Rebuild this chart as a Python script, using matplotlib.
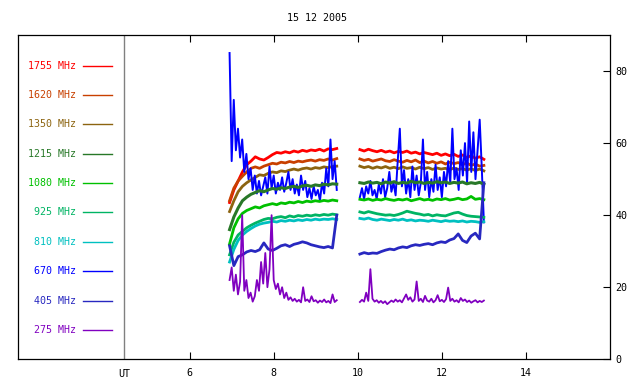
import numpy as np
import matplotlib
matplotlib.use('Agg')
import matplotlib.pyplot as plt

# Tempo (UT) dos dois trechos de medida
t1 = np.linspace(6.95, 9.50, 26)
t2 = np.linspace(10.05, 13.00, 30)
t1n = np.linspace(6.95, 9.50, 52)
t2n = np.linspace(10.05, 13.00, 60)

freqs = ['1755 MHz', '1620 MHz', '1350 MHz', '1215 MHz', '1080 MHz',
         '925 MHz', '810 MHz', '670 MHz', '405 MHz', '275 MHz']
cores = ['#ff0000', '#c84000', '#8c6410', '#287828', '#00c000',
         '#00b464', '#00c0c0', '#0000ff', '#2828c0', '#8000c0']

f1755_a = [43.5, 47.0, 49.5, 52.0, 54.0, 55.0, 56.2, 55.6, 55.3, 56.0, 56.8, 57.4, 57.2,
           57.6, 57.3, 57.8, 57.5, 58.0, 57.7, 58.1, 57.9, 58.3, 57.8, 58.4, 58.2, 58.5]
f1755_b = [58.2, 57.8, 58.3, 57.9, 57.6, 58.0, 57.5, 57.8, 57.3, 57.7, 57.4, 57.8, 57.2, 57.5, 57.0,
           57.4, 57.1, 56.8, 57.2, 56.6, 57.0, 56.5, 56.9, 56.3, 56.7, 56.0, 56.5, 55.8, 56.2, 55.5]
f1620_a = [44.0, 47.5, 49.5, 50.8, 52.0, 53.0, 53.4, 53.0, 53.6, 54.0, 54.4, 54.2, 54.7,
           54.5, 54.9, 54.6, 55.0, 54.8, 55.1, 55.3, 55.0, 55.4, 55.2, 55.6, 55.3, 55.7]
f1620_b = [55.6, 55.2, 55.5, 55.0, 55.3, 55.6, 55.1, 54.9, 55.4, 55.0, 54.7, 55.2, 54.8, 55.3, 54.6,
           55.0, 54.5, 54.9, 54.4, 54.8, 54.2, 54.7, 54.3, 54.6, 54.0, 54.5, 53.8, 54.2, 53.6, 53.8]
f1350_a = [41.0, 44.0, 46.5, 48.0, 49.0, 49.8, 50.5, 51.2, 51.0, 51.6, 52.0, 51.8, 52.3,
           52.1, 52.5, 52.8, 52.5, 52.9, 53.1, 52.8, 53.2, 53.0, 53.4, 53.2, 53.5, 53.6]
f1350_b = [53.6, 53.2, 53.5, 53.0, 53.4, 53.1, 53.5, 53.0, 53.3, 52.9, 53.4, 53.0, 53.2, 52.8, 53.3,
           52.9, 53.2, 52.7, 53.1, 52.8, 53.0, 52.6, 53.1, 52.7, 52.9, 52.5, 52.9, 52.4, 52.8, 52.3]
f1215_a = [36.0, 39.5, 42.0, 44.0, 45.0, 45.8, 46.3, 46.8, 46.5, 47.0, 47.4, 47.2, 47.6,
           47.4, 47.8, 48.0, 47.7, 48.1, 48.3, 48.0, 48.4, 48.2, 48.6, 48.4, 48.7, 48.6]
f1215_b = [49.0, 48.8, 49.2, 48.9, 49.1, 48.7, 49.2, 48.9, 49.3, 48.8, 49.1, 48.9, 49.4, 49.0, 49.2,
           48.8, 49.1, 48.9, 49.3, 49.0, 49.2, 48.8, 49.1, 48.9, 49.2, 48.7, 49.0, 48.8, 49.1, 48.6]
f1080_a = [32.0, 36.5, 39.0, 40.5, 41.3, 41.8, 42.3, 42.0, 42.6, 42.9, 43.2, 42.9, 43.4,
           43.2, 43.6, 43.4, 43.8, 43.5, 43.9, 43.7, 44.0, 43.8, 44.1, 43.9, 44.2, 44.0]
f1080_b = [44.4, 44.2, 44.5, 44.1, 44.4, 44.2, 44.6, 44.3, 44.1, 44.4, 44.2, 44.5, 44.0, 44.3, 44.6,
           44.2, 44.4, 44.1, 44.5, 44.3, 44.6, 44.2, 44.4, 44.7, 44.3, 44.5, 45.2, 44.4, 44.6, 44.3]
f925_a = [29.0, 32.5, 34.5, 35.5, 36.5, 37.2, 37.8, 38.3, 38.8, 39.1, 39.0, 39.4, 39.6,
          39.3, 39.8, 39.5, 39.9, 39.7, 40.0, 39.8, 40.1, 39.9, 40.2, 40.0, 40.3, 40.1]
f925_b = [40.9, 40.6, 41.0, 40.7, 40.4, 40.2, 40.0, 40.1, 39.9, 40.2, 40.6, 41.1, 40.8, 40.5, 40.3,
          40.0, 40.2, 39.8, 40.1, 39.9, 39.8, 40.2, 40.6, 40.8, 40.3, 39.9, 39.7, 39.6, 39.5, 39.4]
f810_a = [27.0, 30.5, 33.0, 34.5, 35.5, 36.3, 37.0, 37.5, 37.8, 38.0, 38.3, 38.1, 38.5,
          38.3, 38.6, 38.4, 38.7, 38.5, 38.8, 38.6, 38.9, 38.7, 38.9, 38.8, 39.0, 38.8]
f810_b = [39.1, 38.9, 39.2, 38.8, 38.6, 38.9, 38.7, 38.5, 38.8, 38.6, 38.9, 38.5, 38.7, 38.4, 38.6,
          38.5, 38.3, 38.6, 38.4, 38.2, 38.5, 38.3, 38.4, 38.2, 38.4, 38.1, 38.3, 38.2, 38.0, 38.2]
f405_a = [31.5, 26.0, 28.5, 29.0, 29.8, 30.2, 29.9, 30.4, 32.3, 30.6, 30.2, 30.8, 31.5,
          31.8, 31.3, 31.9, 32.2, 32.6, 32.3, 31.8, 31.5, 31.2, 31.0, 31.3, 30.9, 40.0]
f405_b = [29.2, 29.6, 29.3, 29.5, 29.4, 29.9, 30.3, 30.6, 30.4, 30.9, 31.2, 31.0, 31.5, 31.8, 31.6,
          31.9, 32.1, 31.8, 32.3, 32.6, 32.4, 33.1, 33.5, 34.8, 33.0, 32.4, 34.2, 35.0, 33.4, 49.0]

f670_a = [85.0, 55.0, 72.0, 58.0, 64.0, 56.0, 61.0, 52.0, 57.0, 50.0, 53.0, 47.0, 51.0,
          46.0, 49.5, 45.5, 48.0, 50.5, 46.0, 53.5, 47.5, 51.0, 46.0, 49.0, 47.0, 50.5,
          46.5, 49.0, 52.0, 47.0, 50.0, 46.0, 48.5, 45.5, 51.0, 47.0, 49.5, 45.0, 47.5,
          44.5, 48.0, 45.5, 47.0, 44.0, 49.0, 46.0, 53.0, 48.0, 61.0, 50.0, 55.0, 47.0]
f670_b = [45.0, 47.5, 44.5, 48.0, 46.0, 49.5, 45.5, 47.0, 44.5, 48.5, 46.0, 50.0, 45.0, 47.5, 52.0,
          46.5, 49.0, 45.5, 55.0, 64.0, 48.0, 52.5, 46.0, 50.0, 45.0, 53.5, 47.0, 51.0, 45.5, 49.0,
          61.0, 47.0, 52.0, 45.0, 50.0, 46.5, 54.0, 47.0, 50.5, 45.0, 52.0, 48.0, 55.0, 49.0, 64.0,
          50.0, 53.0, 47.0, 58.0, 51.0, 60.0, 49.0, 66.0, 52.0, 63.0, 50.0, 58.0, 66.5, 53.0, 38.0]
f275_a = [22.0, 25.5, 19.0, 23.5, 18.0, 21.5, 40.0, 19.0, 22.0, 17.0, 18.5, 16.0, 17.5,
          22.0, 19.0, 27.0, 21.0, 29.5, 20.0, 25.0, 40.0, 22.0, 19.5, 21.0, 18.0, 20.0,
          17.0, 18.5, 16.5, 17.2, 16.2, 16.8, 16.0, 16.5, 15.8, 20.0, 16.2, 16.6, 15.9,
          17.5, 16.1, 16.4, 15.7, 16.3, 15.9, 16.6, 15.8, 16.2, 15.6, 18.0, 15.9, 16.4]
f275_b = [15.9, 16.5, 16.0, 18.5, 16.2, 25.0, 16.8, 16.0, 16.4, 15.7, 16.2, 15.6, 16.1, 15.3, 15.8,
          16.3, 15.9, 16.6, 16.0, 16.4, 15.8, 16.9, 18.0, 16.5, 17.2, 16.0, 16.6, 21.6, 16.2, 16.8,
          15.9, 17.6, 16.3, 16.0, 16.8, 15.8, 16.4, 17.8, 16.1, 16.5, 15.9, 16.7, 19.9, 16.2, 16.8,
          16.0, 16.4, 15.8, 17.0, 16.2, 16.6, 15.9, 16.3, 15.7, 16.1, 16.4, 15.8, 16.2, 15.9, 16.3]

fonte = 'DejaVu Sans Mono'
plt.rcParams['font.family'] = fonte

fig = plt.figure(figsize=(6.4, 3.84), dpi=100)
ax = fig.add_axes([18/640, 1 - 359.3/384, (610 - 18)/640, (359.3 - 35)/384])

ax.set_xlim(1.917, 16.0)
ax.set_ylim(0, 90)

# Curvas (ordem de desenho)
lw_s = 2.0
ax.plot(t1, f1755_a, color=cores[0], lw=lw_s)
ax.plot(t2, f1755_b, color=cores[0], lw=lw_s)
ax.plot(t1, f1620_a, color=cores[1], lw=lw_s)
ax.plot(t2, f1620_b, color=cores[1], lw=lw_s)
ax.plot(t1, f1350_a, color=cores[2], lw=lw_s)
ax.plot(t2, f1350_b, color=cores[2], lw=lw_s)
ax.plot(t1n, f670_a, color=cores[7], lw=1.4)
ax.plot(t2n, f670_b, color=cores[7], lw=1.4)
ax.plot(t1, f1215_a, color=cores[3], lw=2.2)
ax.plot(t2, f1215_b, color=cores[3], lw=2.2)
ax.plot(t1, f1080_a, color=cores[4], lw=lw_s)
ax.plot(t2, f1080_b, color=cores[4], lw=lw_s)
ax.plot(t1, f925_a, color=cores[5], lw=lw_s)
ax.plot(t2, f925_b, color=cores[5], lw=lw_s)
ax.plot(t1, f810_a, color=cores[6], lw=lw_s)
ax.plot(t2, f810_b, color=cores[6], lw=lw_s)
ax.plot(t1, f405_a, color=cores[8], lw=lw_s)
ax.plot(t2, f405_b, color=cores[8], lw=lw_s)
ax.plot(t1n, f275_a, color=cores[9], lw=1.3)
ax.plot(t2n, f275_b, color=cores[9], lw=1.3)

# Legenda à esquerda
for k, (nome, cor) in enumerate(zip(freqs, cores)):
    yk = 81.5 - 8.15*k
    ax.text(3.29, yk, nome, color=cor, ha='right', va='center', fontsize=7.2)
    ax.plot([3.455, 4.145], [yk, yk], color=cor, lw=1.0)

# Linha UT
ax.axvline(4.45, color='#808080', lw=1.0)
ax.text(4.45, -2.6, 'UT', ha='center', va='top', fontsize=7.2)

ax.set_xticks([6, 8, 10, 12, 14])
ax.set_yticks([0, 20, 40, 60, 80])
ax.tick_params(axis='x', direction='in', length=5, width=0.8, top=True, bottom=True,
               labelsize=7.2, pad=6)
ax.tick_params(axis='y', direction='in', length=5, width=0.8, left=False, right=True,
               labelleft=False, labelright=True, labelsize=7.2, pad=4)
for s in ax.spines.values():
    s.set_linewidth(0.9)

fig.text(317/640, 1 - 18/384, '15 12 2005', ha='center', va='center', fontsize=7.2)

fig.savefig('out.png', dpi=100)
